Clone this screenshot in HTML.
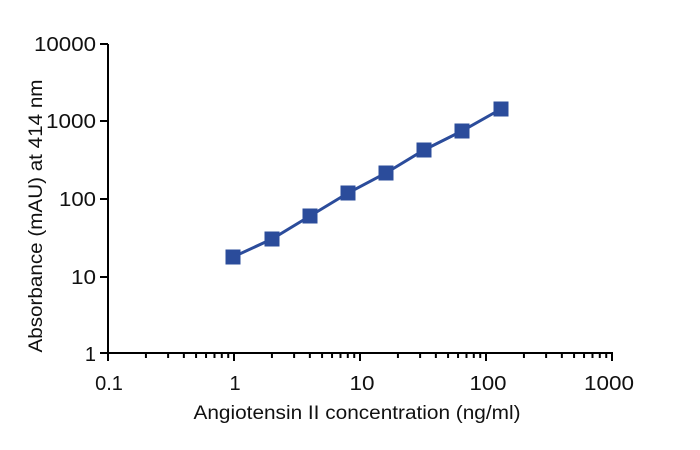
<!DOCTYPE html>
<html><head><meta charset="utf-8"><style>
html,body{margin:0;padding:0;background:#fff;}
svg{display:block;font-family:"Liberation Sans",sans-serif;}
</style></head><body>
<svg id="s" width="700" height="450" viewBox="0 0 700 450" xmlns="http://www.w3.org/2000/svg">
<g id="ax" stroke="#000" stroke-width="2" fill="none">
<line x1="108" y1="44" x2="108" y2="354"/>
<line x1="107" y1="353" x2="613" y2="353"/>
</g>
<g font-size="20" fill="#111" text-anchor="end">
<text x="96" y="51" textLength="62" lengthAdjust="spacingAndGlyphs">10000</text>
<text x="96" y="128" textLength="50" lengthAdjust="spacingAndGlyphs">1000</text>
<text x="96" y="206" textLength="37" lengthAdjust="spacingAndGlyphs">100</text>
<text x="96" y="284" textLength="25" lengthAdjust="spacingAndGlyphs">10</text>
<text x="96" y="361">1</text>
</g>
<g font-size="20" fill="#111" text-anchor="middle">
<text x="109" y="390">0.1</text>
<text x="235" y="390">1</text>
<text x="362" y="390" textLength="25" lengthAdjust="spacingAndGlyphs">10</text>
<text x="488" y="390" textLength="37" lengthAdjust="spacingAndGlyphs">100</text>
<text x="609" y="390" textLength="50" lengthAdjust="spacingAndGlyphs">1000</text>
<text x="357" y="419" font-size="19" textLength="327" lengthAdjust="spacingAndGlyphs">Angiotensin II concentration (ng/ml)</text>
<text transform="translate(42,216) rotate(-90)" font-size="19" textLength="273" lengthAdjust="spacingAndGlyphs">Absorbance (mAU) at 414 nm</text>
</g>
<polyline fill="none" stroke="#2B4C9B" stroke-width="3" points="233,257 272,239 310,216 348,193 386,173 424,150 462,131 501,109"/>
<g fill="#2B4C9B" id="m"></g>
</svg>
<script>
var ns="http://www.w3.org/2000/svg",ax=document.getElementById("ax"),m=document.getElementById("m");
function L(x1,y1,x2,y2){var l=document.createElementNS(ns,"line");l.setAttribute("x1",x1);l.setAttribute("y1",y1);l.setAttribute("x2",x2);l.setAttribute("y2",y2);ax.appendChild(l);}
var x0=108,d=126;
for(var k=0;k<4;k++){for(var i=1;i<=10;i++){var x=x0+d*(k+Math.log10(i));L(x,353,x,(i==1||i==10)?361:358);}}
var ys=[44,121,199,277,353];ys.forEach(function(y){L(100,y,108,y);});
[[233,257],[272,239],[310,216],[348,193],[386,173],[424,150],[462,131],[501,109]].forEach(function(p){var r=document.createElementNS(ns,"rect");r.setAttribute("x",p[0]-7.5);r.setAttribute("y",p[1]-7.5);r.setAttribute("width",15);r.setAttribute("height",15);m.appendChild(r);});
</script>
</body></html>
